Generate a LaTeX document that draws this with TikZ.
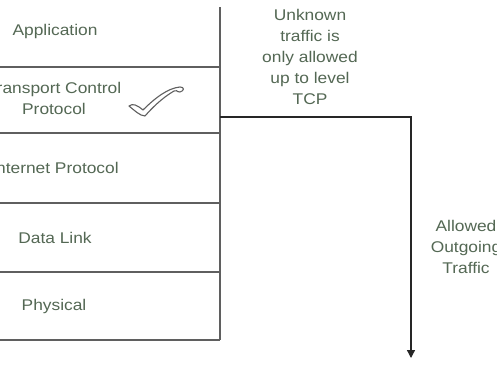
\documentclass[tikz,border=0pt]{standalone}
\usepackage{fontspec}
\usetikzlibrary{arrows.meta}
\newfontfamily\lblfont[FakeStretch=1.12]{Liberation Sans}
\definecolor{txt}{RGB}{84,104,84}
\definecolor{ln}{RGB}{95,95,95}
\begin{document}
\begin{tikzpicture}[x=1pt,y=-1pt,
  lbl/.style={font=\lblfont\fontsize{15.5}{21}\selectfont, text=txt, align=center, inner sep=0pt},
  layerline/.style={draw=ln, line width=1.4pt},
  flow/.style={draw=black!85, line width=1.3pt, -{Triangle[length=8pt,width=8pt]}}]
\useasboundingbox (0,0) rectangle (497,364);
\clip (0,0) rectangle (497,364);
\fill[white] (0,0) rectangle (497,364);
% layer stack
\coordinate (tr) at (220,7);
\coordinate (br) at (220,340);
\draw[layerline] (tr) -- (br);
\draw[layerline] (-110,340) -- (br);
\draw[layerline] (-110,67) -- (220,67);
\draw[layerline] (-110,133) -- (220,133);
\draw[layerline] (-110,203) -- (220,203);
\draw[layerline] (-110,272) -- (220,272);
% layer labels
\node[lbl] (app) at (55,31) {Application};
\node[lbl] (tcp) at (54,98) {Transport Control\\Protocol};
\node[lbl] (ip) at (55,168) {Internet Protocol};
\node[lbl] (dl) at (55,238) {Data Link};
\node[lbl] (phy) at (54,306) {Physical};
% check mark
\draw[ln, line width=1.1pt, line join=round]
  (129,106) .. controls (133,103) and (137,105) .. (143,110)
  .. controls (155,98) and (168,88) .. (180,87)
  .. controls (185,87) and (184,91) .. (180,92)
  .. controls (176,92) and (177,89) .. (174,91)
  .. controls (162,98) and (152,108) .. (145,116)
  .. controls (140,116) and (134,110) .. cycle;
% arrow
\coordinate (start) at (220,117);
\coordinate (corner) at (411,117);
\coordinate (tip) at (411,358);
\draw[flow] (start) -- (corner) -- (tip);
% annotations
\node[lbl] (unk) at (310,57) {Unknown\\traffic is\\only allowed\\up to level\\TCP};
\node[lbl] (out) at (466,247) {Allowed\\Outgoing\\Traffic};
\end{tikzpicture}
\end{document}
